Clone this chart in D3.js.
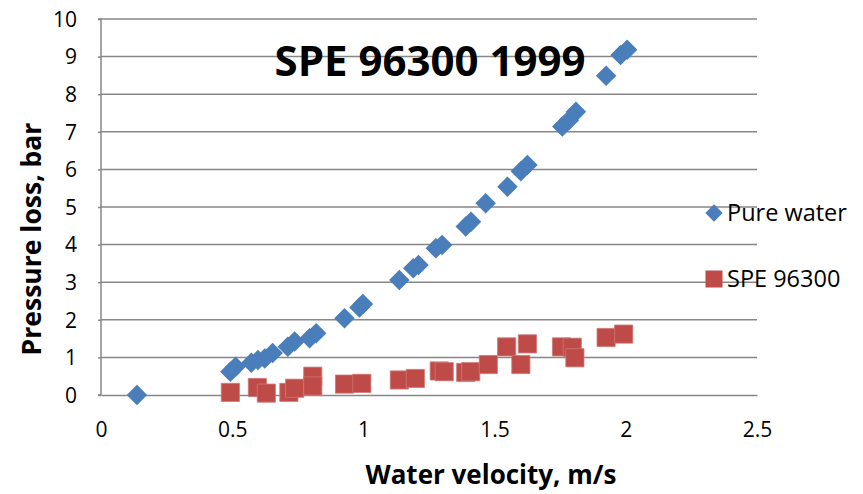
<!DOCTYPE html>
<html>
<head>
<meta charset="utf-8">
<script src="https://cdn.jsdelivr.net/npm/d3@7"></script>
<style>
  html, body { margin: 0; padding: 0; background: #fff; }
  svg { display: block; font-family: "Open Sans", sans-serif; }
</style>
</head>
<body>
<svg id="chart" width="863" height="494"></svg>
<script>
// Data
const pureWaterX = [0.137, 0.493, 0.513, 0.573, 0.598, 0.624, 0.654, 0.712, 0.738, 0.795, 0.820, 0.928, 0.985, 0.998, 1.137, 1.190, 1.210, 1.276, 1.300, 1.390, 1.410, 1.466, 1.549, 1.600, 1.625, 1.758, 1.783, 1.810, 1.925, 1.980, 2.005];
const pureWaterY = [0.00, 0.62, 0.75, 0.86, 0.93, 0.97, 1.12, 1.28, 1.42, 1.51, 1.64, 2.04, 2.33, 2.42, 3.06, 3.37, 3.46, 3.90, 3.99, 4.48, 4.61, 5.10, 5.54, 5.95, 6.12, 7.14, 7.31, 7.53, 8.49, 9.04, 9.18];
const speX = [0.493, 0.596, 0.630, 0.716, 0.738, 0.807, 0.807, 0.928, 0.994, 1.137, 1.198, 1.289, 1.308, 1.390, 1.409, 1.476, 1.546, 1.600, 1.625, 1.755, 1.796, 1.806, 1.925, 1.992];
const speY = [0.07, 0.20, 0.05, 0.07, 0.18, 0.50, 0.24, 0.29, 0.31, 0.40, 0.44, 0.64, 0.62, 0.60, 0.62, 0.81, 1.28, 0.81, 1.36, 1.28, 1.27, 0.99, 1.53, 1.62];
const xTicks = [0, 0.5, 1, 1.5, 2, 2.5];
const yTicks = [0, 1, 2, 3, 4, 5, 6, 7, 8, 9, 10];
const seriesNames = ["Pure water", "SPE 96300"];
const seriesColors = ["#4A7EBB", "#BE4B48"];
const titleText = "SPE 96300 1999";
const xTitle = "Water velocity, m/s";
const yTitle = "Pressure loss, bar";

const svg = d3.select("#chart");
const pLeft = 101, pRight = 757, pTop = 19, pBottom = 395;
const x = d3.scaleLinear().domain([0, 2.5]).range([pLeft, pRight]);
const y = d3.scaleLinear().domain([0, 10]).range([pBottom, pTop]);
const gridColor = "#878787";

// gridlines
svg.append("g").selectAll("line").data(yTicks.filter(d => d > 0)).join("line")
  .attr("x1", pLeft).attr("x2", pRight)
  .attr("y1", d => y(d)).attr("y2", d => y(d))
  .attr("stroke", gridColor).attr("stroke-width", 1.5);

// y axis
const yAxis = svg.append("g").attr("transform", `translate(${pLeft},0)`)
  .call(d3.axisLeft(y).tickValues(yTicks).tickSize(3).tickFormat(d3.format("d")));
yAxis.select(".domain").attr("stroke", gridColor).attr("stroke-width", 1.5).attr("d", `M-3,${pTop}H0V${pBottom}H-3`);
yAxis.selectAll(".tick line").attr("stroke", gridColor).attr("stroke-width", 1.5);
yAxis.selectAll(".tick text").attr("font-size", 21).attr("fill", "#000").attr("font-family", "Open Sans").attr("dy", "0.35em").attr("x", -24);

// x axis
const xAxis = svg.append("g").attr("transform", `translate(0,${pBottom})`)
  .call(d3.axisBottom(x).tickValues(xTicks).tickSize(0).tickFormat(d => d3.format("")(d)));
xAxis.select(".domain").attr("stroke", gridColor).attr("stroke-width", 1.5);
xAxis.selectAll(".tick text").attr("font-size", 21).attr("fill", "#000").attr("font-family", "Open Sans").attr("dy", "0").attr("y", 42);

// title
svg.append("text").attr("x", 430).attr("y", 76).attr("text-anchor", "middle")
  .attr("font-size", 42).attr("font-weight", "bold").attr("fill", "#000")
  .text(titleText);

// axis titles
svg.append("text").attr("x", 491).attr("y", 484).attr("text-anchor", "middle")
  .attr("font-size", 26).attr("font-weight", "bold").text(xTitle);
svg.append("text").attr("transform", "translate(41,239) rotate(-90)").attr("text-anchor", "middle")
  .attr("font-size", 26.5).attr("font-weight", "bold").text(yTitle);

// markers
const diamond = d3.symbol().type(d3.symbolSquare).size(210);
const square = d3.symbol().type(d3.symbolSquare).size(330);

const pw = pureWaterX.map((v, i) => ({x: v, y: pureWaterY[i]}));
const sp = speX.map((v, i) => ({x: v, y: speY[i]}));

svg.append("g").selectAll("path").data(pw).join("path")
  .attr("d", diamond)
  .attr("transform", d => `translate(${x(d.x)},${y(d.y)}) rotate(45)`)
  .attr("fill", seriesColors[0]);

svg.append("g").selectAll("path").data(sp).join("path")
  .attr("d", square)
  .attr("transform", d => `translate(${x(d.x)},${y(d.y)})`)
  .attr("fill", seriesColors[1]).attr("stroke", "#D07775").attr("stroke-width", 0.8);

// legend
const legend = svg.append("g");
const legY = [213, 279];
legend.append("path").attr("d", d3.symbol().type(d3.symbolSquare).size(150))
  .attr("transform", `translate(714,${legY[0]}) rotate(45)`).attr("fill", seriesColors[0]);
legend.append("path").attr("d", d3.symbol().type(d3.symbolSquare).size(289))
  .attr("transform", `translate(714,${legY[1]})`).attr("fill", seriesColors[1]);
legend.selectAll("text").data(seriesNames).join("text")
  .attr("x", 727).attr("y", (d, i) => legY[i]).attr("dy", "0.35em")
  .attr("font-size", 23.5).attr("fill", "#000").text(d => d);
</script>
</body>
</html>
